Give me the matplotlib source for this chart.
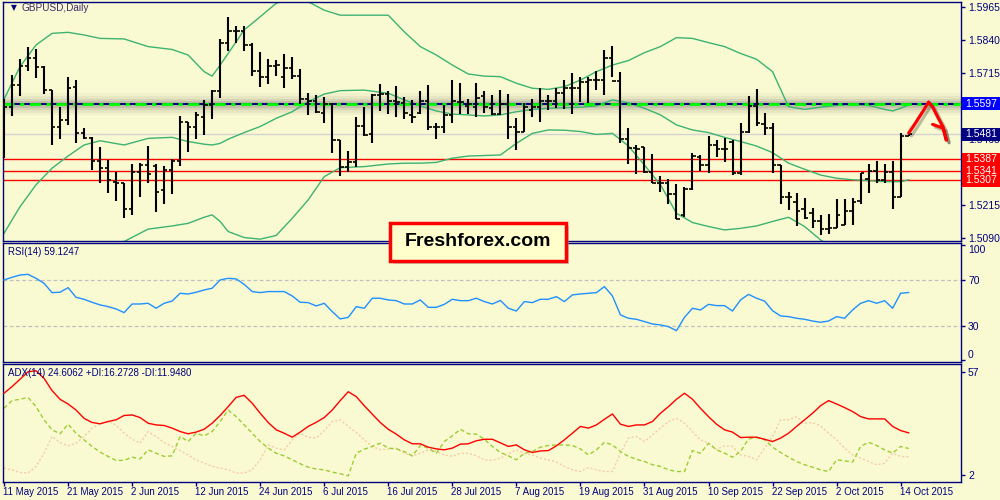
import matplotlib
matplotlib.use("Agg")
import matplotlib.pyplot as plt
from matplotlib.patches import Rectangle
import matplotlib.transforms as mtransforms
import matplotlib.patheffects as pe

# ---------------- data ----------------
opens = [1.5400, 1.5584, 1.5668, 1.5740, 1.5769, 1.5738, 1.5649, 1.5508, 1.5536, 1.5660,
         1.5485, 1.5469, 1.5381, 1.5353, 1.5302, 1.5298, 1.5199, 1.5338, 1.5365, 1.5362,
         1.5271, 1.5346, 1.5382, 1.5527, 1.5511, 1.5548, 1.5593, 1.5647, 1.5829, 1.5874,
         1.5874, 1.5820, 1.5723, 1.5700, 1.5741, 1.5700, 1.5734, 1.5702, 1.5614, 1.5609,
         1.5561, 1.5596, 1.5458, 1.5359, 1.5376, 1.5513, 1.5481, 1.5631, 1.5635, 1.5609,
         1.5599, 1.5555, 1.5564, 1.5609, 1.5511, 1.5511, 1.5555, 1.5605, 1.5588, 1.5586,
         1.5627, 1.5580, 1.5557, 1.5598, 1.5508, 1.5491, 1.5573, 1.5586, 1.5608, 1.5608,
         1.5637, 1.5656, 1.5656, 1.5681, 1.5687, 1.5687, 1.5769, 1.5684, 1.5463, 1.5428,
         1.5434, 1.5340, 1.5298, 1.5298, 1.5256, 1.5176, 1.5273, 1.5394, 1.5365, 1.5441,
         1.5425, 1.5454, 1.5336, 1.5491, 1.5589, 1.5521, 1.5507, 1.5365, 1.5243, 1.5223,
         1.5198, 1.5182, 1.5151, 1.5122, 1.5126, 1.5139, 1.5191, 1.5229, 1.5312, 1.5343,
         1.5309, 1.5340, 1.5245, 1.5475]
highs = [1.5614, 1.5706, 1.5767, 1.5811, 1.5805, 1.5740, 1.5649, 1.5586, 1.5697, 1.5687,
         1.5504, 1.5473, 1.5435, 1.5384, 1.5338, 1.5298, 1.5368, 1.5372, 1.5439, 1.5369,
         1.5362, 1.5387, 1.5551, 1.5529, 1.5567, 1.5612, 1.5649, 1.5841, 1.5927, 1.5892,
         1.5892, 1.5826, 1.5795, 1.5766, 1.5763, 1.5786, 1.5773, 1.5729, 1.5639, 1.5630,
         1.5624, 1.5601, 1.5460, 1.5418, 1.5548, 1.5586, 1.5633, 1.5672, 1.5647, 1.5666,
         1.5624, 1.5612, 1.5647, 1.5668, 1.5523, 1.5593, 1.5687, 1.5677, 1.5614, 1.5675,
         1.5647, 1.5630, 1.5649, 1.5635, 1.5542, 1.5601, 1.5614, 1.5656, 1.5630, 1.5656,
         1.5687, 1.5713, 1.5700, 1.5697, 1.5723, 1.5801, 1.5816, 1.5719, 1.5507, 1.5441,
         1.5435, 1.5407, 1.5325, 1.5312, 1.5293, 1.5283, 1.5412, 1.5403, 1.5475, 1.5460,
         1.5469, 1.5458, 1.5526, 1.5627, 1.5652, 1.5561, 1.5523, 1.5365, 1.5261, 1.5258,
         1.5239, 1.5201, 1.5176, 1.5178, 1.5235, 1.5236, 1.5241, 1.5336, 1.5369, 1.5380,
         1.5369, 1.5380, 1.5488, 1.5484]
lows = [1.5391, 1.5552, 1.5628, 1.5723, 1.5696, 1.5633, 1.5441, 1.5465, 1.5518, 1.5450,
        1.5463, 1.5346, 1.5296, 1.5258, 1.5230, 1.5166, 1.5176, 1.5245, 1.5298, 1.5186,
        1.5218, 1.5254, 1.5363, 1.5416, 1.5463, 1.5479, 1.5538, 1.5620, 1.5798, 1.5829,
        1.5798, 1.5704, 1.5662, 1.5671, 1.5702, 1.5658, 1.5691, 1.5595, 1.5555, 1.5561,
        1.5526, 1.5410, 1.5325, 1.5338, 1.5359, 1.5475, 1.5447, 1.5570, 1.5557, 1.5548,
        1.5538, 1.5523, 1.5560, 1.5498, 1.5463, 1.5485, 1.5523, 1.5559, 1.5559, 1.5546,
        1.5561, 1.5555, 1.5555, 1.5463, 1.5422, 1.5491, 1.5548, 1.5529, 1.5574, 1.5580,
        1.5576, 1.5557, 1.5605, 1.5601, 1.5649, 1.5631, 1.5700, 1.5447, 1.5368, 1.5331,
        1.5334, 1.5296, 1.5261, 1.5218, 1.5160, 1.5167, 1.5271, 1.5344, 1.5334, 1.5397,
        1.5376, 1.5328, 1.5328, 1.5488, 1.5513, 1.5479, 1.5336, 1.5218, 1.5195, 1.5134,
        1.5161, 1.5126, 1.5100, 1.5103, 1.5126, 1.5136, 1.5139, 1.5216, 1.5258, 1.5296,
        1.5296, 1.5197, 1.5245, 1.5475]
closes = [1.5584, 1.5668, 1.5740, 1.5769, 1.5738, 1.5649, 1.5508, 1.5536, 1.5656, 1.5485,
          1.5469, 1.5381, 1.5353, 1.5309, 1.5298, 1.5199, 1.5338, 1.5365, 1.5331, 1.5264,
          1.5346, 1.5382, 1.5527, 1.5511, 1.5555, 1.5593, 1.5647, 1.5826, 1.5874, 1.5874,
          1.5820, 1.5723, 1.5700, 1.5741, 1.5744, 1.5734, 1.5702, 1.5614, 1.5609, 1.5567,
          1.5596, 1.5458, 1.5359, 1.5376, 1.5513, 1.5479, 1.5631, 1.5635, 1.5609, 1.5605,
          1.5564, 1.5548, 1.5609, 1.5511, 1.5511, 1.5555, 1.5608, 1.5605, 1.5595, 1.5618,
          1.5584, 1.5557, 1.5598, 1.5508, 1.5491, 1.5586, 1.5586, 1.5608, 1.5608, 1.5637,
          1.5656, 1.5656, 1.5681, 1.5687, 1.5687, 1.5769, 1.5684, 1.5463, 1.5428, 1.5426,
          1.5340, 1.5298, 1.5298, 1.5256, 1.5161, 1.5273, 1.5400, 1.5365, 1.5441, 1.5425,
          1.5425, 1.5336, 1.5491, 1.5589, 1.5526, 1.5507, 1.5365, 1.5243, 1.5243, 1.5189,
          1.5163, 1.5151, 1.5122, 1.5126, 1.5176, 1.5191, 1.5226, 1.5336, 1.5343, 1.5309,
          1.5340, 1.5243, 1.5475, 1.5481]

# Bollinger bands, sampled at bar indices
bb_idx = [0, 2, 4, 6, 8, 10, 12, 15, 18, 21, 23, 25, 26, 27, 28, 30, 32, 34, 36, 38,
          40, 42, 45, 48, 50, 52, 54, 56, 58, 60, 62, 64, 66, 68, 70, 72, 74, 76, 78, 80,
          82, 84, 86, 88, 90, 92, 94, 96, 98, 100, 102, 104, 106, 108, 110, 111, 112, 113]
bb_upper = [1.5614, 1.5738, 1.5820, 1.5864, 1.5868, 1.5858, 1.5845, 1.5843, 1.5814, 1.5803,
            1.5782, 1.5719, 1.5702, 1.5744, 1.5788, 1.5877, 1.5927, 1.5978, 1.5997, 1.5984,
            1.5952, 1.5933, 1.5933, 1.5933, 1.5870, 1.5814, 1.5782, 1.5744, 1.5710, 1.5702,
            1.5700, 1.5675, 1.5656, 1.5652, 1.5662, 1.5687, 1.5719, 1.5744, 1.5761, 1.5791,
            1.5814, 1.5848, 1.5845, 1.5829, 1.5814, 1.5788, 1.5766, 1.5719, 1.5586, 1.5576,
            1.5584, 1.5591, 1.5595, 1.5591, 1.5576, 1.5570, 1.5580, 1.5593]
bb_mid = [1.5106, 1.5207, 1.5290, 1.5353, 1.5399, 1.5441, 1.5457, 1.5441, 1.5466, 1.5470,
          1.5454, 1.5444, 1.5441, 1.5447, 1.5463, 1.5488, 1.5511, 1.5542, 1.5567, 1.5605,
          1.5634, 1.5647, 1.5649, 1.5637, 1.5612, 1.5589, 1.5570, 1.5558, 1.5555, 1.5551,
          1.5555, 1.5567, 1.5576, 1.5580, 1.5582, 1.5584, 1.5589, 1.5612, 1.5601, 1.5580,
          1.5555, 1.5517, 1.5498, 1.5488, 1.5470, 1.5454, 1.5437, 1.5412, 1.5372, 1.5349,
          1.5327, 1.5315, 1.5309, 1.5306, 1.5302, 1.5302, 1.5302, 1.5309]
bb_lower = [1.4599, 1.4677, 1.4759, 1.4841, 1.4930, 1.5024, 1.5070, 1.5075, 1.5122, 1.5134,
            1.5144, 1.5167, 1.5176, 1.5151, 1.5113, 1.5090, 1.5084, 1.5098, 1.5163, 1.5233,
            1.5321, 1.5355, 1.5359, 1.5369, 1.5372, 1.5372, 1.5375, 1.5391, 1.5399, 1.5401,
            1.5403, 1.5447, 1.5485, 1.5498, 1.5497, 1.5492, 1.5481, 1.5485, 1.5437, 1.5365,
            1.5290, 1.5182, 1.5147, 1.5132, 1.5119, 1.5125, 1.5134, 1.5151, 1.5167, 1.5132,
            1.5081, 1.5043, 1.5024, 1.5021, 1.5028, 1.5034, 1.5024, 1.5024]

rsi = [70.0, 72.3, 74.3, 74.9, 71.4, 67.1, 59.0, 59.3, 63.3, 54.9,
       53.2, 50.6, 48.3, 46.8, 44.8, 41.6, 49.1, 49.1, 49.7, 45.4,
       49.7, 51.7, 58.4, 57.8, 59.3, 61.3, 62.8, 70.0, 71.4, 70.9,
       66.2, 59.9, 59.0, 59.9, 59.9, 59.9, 56.1, 50.6, 50.3, 47.4,
       49.7, 42.5, 36.1, 37.5, 46.8, 45.4, 54.1, 54.1, 52.6, 52.0,
       49.1, 49.1, 52.6, 46.2, 46.2, 48.8, 53.2, 52.0, 52.0, 54.1,
       51.2, 49.1, 52.2, 45.4, 43.0, 51.2, 50.3, 53.2, 53.2, 55.5,
       51.2, 57.0, 57.8, 58.4, 59.0, 64.2, 56.1, 39.6, 36.7, 35.8,
       33.8, 31.7, 30.9, 29.4, 25.9, 37.5, 45.4, 43.9, 48.8, 47.7,
       47.7, 43.0, 52.6, 57.5, 54.1, 51.7, 43.3, 38.7, 38.1, 36.7,
       35.8, 34.3, 33.2, 34.3, 38.1, 36.7, 43.9, 49.7, 52.0, 49.7,
       52.0, 45.4, 58.4, 59.1]

adx = [45.6, 49.1, 53.0, 57.0, 57.5, 53.5, 47.0, 42.4, 39.9, 36.7,
       32.3, 30.1, 29.4, 30.6, 31.5, 33.8, 34.1, 32.7, 29.7, 28.8,
       28.5, 27.1, 25.3, 24.1, 25.0, 26.5, 29.7, 33.8, 38.5, 43.4,
       44.5, 40.3, 35.0, 30.1, 26.2, 24.4, 22.3, 25.0, 28.0, 30.2,
       32.7, 36.7, 41.7, 46.4, 43.8, 39.0, 34.5, 30.1, 26.5, 23.9,
       20.9, 18.8, 18.8, 17.0, 16.1, 15.6, 16.5, 18.6, 18.8, 20.4,
       21.2, 21.2, 19.3, 17.4, 18.2, 15.6, 14.2, 15.0, 15.2, 17.7,
       20.9, 24.4, 28.0, 27.1, 28.8, 31.8, 34.6, 29.2, 28.0, 28.8,
       28.8, 30.6, 35.0, 38.5, 42.4, 45.6, 42.4, 37.6, 33.2, 29.2,
       26.2, 25.0, 22.1, 22.3, 22.3, 21.2, 20.0, 21.8, 24.4, 28.0,
       31.5, 35.0, 39.0, 41.7, 39.9, 38.0, 35.9, 33.2, 32.0, 32.0,
       32.0, 28.0, 25.8, 24.6]
plus_di = [37.6, 41.7, 42.4, 43.4, 38.5, 31.5, 26.2, 24.1, 29.2, 24.4,
           20.9, 17.4, 14.4, 12.1, 10.0, 10.0, 11.7, 10.8, 15.6, 13.8,
           12.1, 12.4, 22.7, 20.0, 24.4, 23.0, 25.3, 30.6, 36.7, 33.2,
           28.8, 24.4, 20.0, 16.5, 13.8, 12.4, 10.3, 8.2, 6.4, 5.4,
           5.0, 3.8, 2.9, 1.8, 13.8, 15.9, 17.4, 19.1, 16.5, 16.1,
           14.7, 12.4, 17.9, 16.5, 13.8, 20.0, 23.0, 26.5, 24.1, 23.9,
           21.2, 17.4, 14.2, 12.4, 10.3, 13.8, 14.7, 17.0, 17.9, 18.2,
           18.2, 17.9, 16.1, 12.9, 15.6, 19.6, 18.2, 14.7, 12.1, 10.6,
           9.4, 7.7, 6.8, 5.0, 4.1, 4.1, 15.2, 13.8, 19.1, 15.6,
           13.8, 11.7, 14.7, 21.4, 22.1, 20.9, 17.0, 14.2, 11.7, 9.4,
           7.7, 6.4, 5.0, 4.1, 10.3, 9.8, 9.1, 17.4, 19.6, 17.9,
           15.6, 13.8, 17.4, 16.3]
minus_di = [5.9, 5.0, 3.6, 3.3, 6.8, 13.8, 22.7, 19.5, 17.7, 19.1,
            22.7, 27.1, 29.4, 30.6, 28.8, 24.4, 21.2, 19.1, 25.3, 22.7,
            19.5, 17.4, 15.2, 12.9, 10.3, 8.5, 6.8, 5.9, 5.0, 3.3,
            3.3, 5.0, 10.3, 18.2, 16.5, 15.6, 20.9, 24.4, 22.3, 21.8,
            25.8, 30.6, 31.5, 28.0, 24.8, 20.9, 17.4, 15.6, 15.9, 16.5,
            13.8, 12.4, 13.8, 15.6, 14.7, 12.9, 12.1, 13.8, 13.8, 12.4,
            10.3, 10.0, 11.2, 13.5, 15.6, 13.8, 12.9, 11.2, 10.3, 9.1,
            6.8, 5.0, 4.1, 6.2, 5.0, 4.1, 4.1, 13.8, 21.8, 22.7,
            20.0, 23.5, 27.1, 30.6, 32.3, 29.7, 25.3, 20.9, 19.1, 15.9,
            17.7, 17.4, 12.9, 12.1, 10.3, 16.5, 22.7, 31.5, 31.5, 33.2,
            29.7, 30.1, 28.3, 24.4, 20.9, 16.5, 12.9, 11.2, 9.4, 7.7,
            8.5, 13.8, 12.1, 11.9]

date_ticks = [0, 8, 16, 24, 32, 40, 48, 56, 64, 72, 80, 88, 96, 104, 112]
date_labels = ["11 May 2015", "21 May 2015", "2 Jun 2015", "12 Jun 2015", "24 Jun 2015",
               "6 Jul 2015", "16 Jul 2015", "28 Jul 2015", "7 Aug 2015", "19 Aug 2015",
               "31 Aug 2015", "10 Sep 2015", "22 Sep 2015", "2 Oct 2015", "14 Oct 2015"]

price_ticks = [1.5090, 1.5215, 1.5465, 1.5715, 1.5840, 1.5965]
resistance = 1.5597
last_price = 1.5481
supports = [1.5387, 1.5341, 1.5307]
rsi_ticks = [0, 30, 70, 100]
adx_ticks = [2, 57]

# hand-drawn forecast arrow (bar index, price)
arrow_path = [(113.0, 1.5486), (113.7, 1.5517), (114.9, 1.5574), (115.5, 1.5604),
              (116.0, 1.5585), (116.7, 1.5543), (117.3, 1.5509), (117.7, 1.5460)]
arrow_head = [(116.0, 1.5519), (117.3, 1.5505), (117.7, 1.5460)]

# ---------------- style ----------------
BG = "#FAFAD2"
NAVY = "#000080"
plt.rcParams["font.family"] = ["Liberation Sans", "DejaVu Sans"]

fig = plt.figure(figsize=(10, 5), dpi=100, facecolor=BG)
ax1 = fig.add_axes([0.003, 0.518, 0.958, 0.478], facecolor=BG)
ax2 = fig.add_axes([0.003, 0.2754, 0.958, 0.2392], facecolor=BG, sharex=ax1)
ax3 = fig.add_axes([0.003, 0.0366, 0.958, 0.2354], facecolor=BG, sharex=ax1)

n = len(closes)
xs = list(range(n))
XMIN, XMAX = -0.125, 119.54

for ax in (ax1, ax2, ax3):
    for s in ax.spines.values():
        s.set_color(NAVY)
        s.set_linewidth(1.0)
    ax.yaxis.tick_right()
    ax.tick_params(axis="y", colors=NAVY, labelcolor=NAVY, labelsize=7.5,
                   length=3, width=1, pad=2)
    ax.tick_params(axis="x", bottom=False, labelbottom=False)
    ax.set_xlim(XMIN, XMAX)

# ---- price panel ----
ax1.set_ylim(1.5077, 1.5983)
ax1.set_yticks(price_ticks)
ax1.set_yticklabels([f"{v:.4f}" for v in price_ticks])

# bands
bcol = "#3CB371"
ax1.plot(bb_idx, bb_upper, color=bcol, lw=1.0, zorder=2)
ax1.plot(bb_idx, bb_mid, color=bcol, lw=1.0, zorder=2)
ax1.plot(bb_idx, bb_lower, color=bcol, lw=1.0, zorder=2)

# resistance line with shadow
for w, a in [(16, 0.05), (12, 0.07), (8, 0.10), (5, 0.14)]:
    ax1.axhline(resistance, color="#505050", lw=w, alpha=a, zorder=1.5,
                solid_capstyle="butt")
ax1.axhline(resistance, color=NAVY, lw=1.5, zorder=3)
ax1.axhline(resistance, color="#00FF00", lw=2.0, zorder=3.1,
            dashes=(4, 2, 1.5, 2))

ax1.axhline(last_price, color="#D3D3D3", lw=1.0, zorder=1.6)
for s in supports:
    ax1.axhline(s, color="#FF0000", lw=1.0, zorder=1.7)

# OHLC bars
ax1.vlines(xs, lows, highs, color="black", lw=1.5, zorder=4)
ax1.hlines(opens, [x - 0.42 for x in xs], xs, color="black", lw=1.2, zorder=4)
ax1.hlines(closes, xs, [x + 0.42 for x in xs], color="black", lw=1.2, zorder=4)

# forecast arrow
shadow = [pe.SimpleLineShadow(offset=(2, -2), alpha=0.25), pe.Normal()]
ax1.plot([p[0] for p in arrow_path], [p[1] for p in arrow_path], color="#FF0000",
         lw=2.3, solid_capstyle="round", solid_joinstyle="round", zorder=6,
         path_effects=shadow, clip_on=False)
ax1.plot([p[0] for p in arrow_head], [p[1] for p in arrow_head], color="#FF0000",
         lw=2.3, solid_capstyle="round", solid_joinstyle="round", zorder=6,
         path_effects=shadow, clip_on=False)

# right-side price boxes
trans = mtransforms.blended_transform_factory(ax1.transAxes, ax1.transData)
box_h = 0.0049
def price_box(val, fc):
    ax1.add_patch(Rectangle((1.0015, val - box_h / 2), 0.042, box_h, transform=trans,
                            facecolor=fc, edgecolor="none", clip_on=False, zorder=10))
    ax1.text(1.0045, val, f"{val:.4f}", transform=trans, color="white", fontsize=7.5,
             va="center", ha="left", clip_on=False, zorder=11)

price_box(resistance, "#0000FF")
price_box(last_price, NAVY)
for s in supports:
    price_box(s, "#FF0000")

ax1.text(0.008, 0.975, "\u25BC", transform=ax1.transAxes, color=NAVY, fontsize=5.5,
         va="center", ha="left", family="DejaVu Sans")
ax1.text(0.019, 0.975, "GBPUSD,Daily", transform=ax1.transAxes, color="#3A2A6A",
         fontsize=7.2, va="center", ha="left")

# ---- RSI panel ----
ax2.set_ylim(-1.6, 102.4)
ax2.set_yticks(rsi_ticks)
ax2.set_yticklabels([str(v) for v in rsi_ticks])
rl = ax2.get_yticklabels()
rl[0].set_va("bottom")
rl[-1].set_va("top")
for lv in (30, 70):
    ax2.axhline(lv, color="#C0C0C0", lw=0.9, dashes=(3, 2), zorder=1)
ax2.plot(xs, rsi, color="#1E90FF", lw=1.0, zorder=3)
ax2.text(0.005, 0.92, "RSI(14) 59.1247", transform=ax2.transAxes, color=NAVY,
         fontsize=7, va="center", ha="left")

# ---- ADX panel ----
ax3.set_ylim(-1.3, 61.1)
ax3.set_yticks(adx_ticks)
ax3.set_yticklabels([str(v) for v in adx_ticks])
ax3.plot(xs, minus_di, color="#F5CBA7", lw=1.0, ls=(0, (1.5, 1.5)), zorder=2)
ax3.plot(xs, plus_di, color="#9ACD32", lw=1.0, ls=(0, (3, 2)), zorder=2.5)
ax3.plot(xs, adx, color="#FF0000", lw=1.0, zorder=3)
ax3.text(0.005, 0.92, "ADX(14) 24.6062 +DI:16.2728 -DI:11.9480", transform=ax3.transAxes,
         color=NAVY, fontsize=7, va="center", ha="left")

ax3.tick_params(axis="x", bottom=True, labelbottom=True, colors=NAVY, labelcolor=NAVY,
                labelsize=7, length=3, width=1, pad=1)
ax3.set_xticks(date_ticks)
ax3.set_xticklabels(date_labels, ha="left")
for lbl in ax3.get_xticklabels():
    lbl.set_transform(lbl.get_transform() + mtransforms.ScaledTranslation(-1 / 100, 0, fig.dpi_scale_trans))

# ---- watermark box ----
fig.patches.append(Rectangle((0.393, 0.472), 0.176, 0.076, transform=fig.transFigure,
                             facecolor="#9a9a9a", edgecolor="none", alpha=0.5, zorder=20))
fig.patches.append(Rectangle((0.390, 0.478), 0.176, 0.076, transform=fig.transFigure,
                             facecolor="#FFFFCC", edgecolor="#FF0000", lw=2.5, zorder=21))
fig.text(0.478, 0.516, "Freshforex.com", ha="center", va="center", fontsize=14,
         fontweight="bold", family="Liberation Sans", color="black", zorder=22)

fig.savefig("out.png", dpi=100, facecolor=BG)
